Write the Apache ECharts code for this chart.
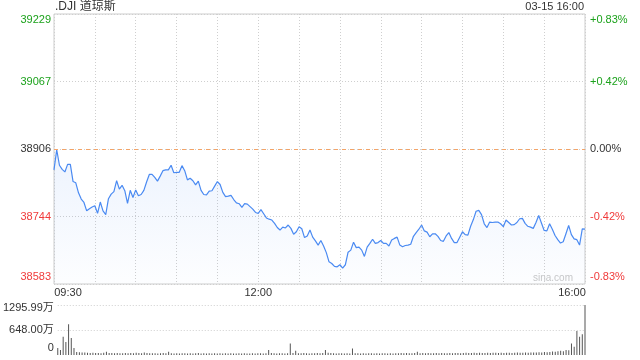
<!DOCTYPE html>
<html><head><meta charset="utf-8">
<script src="https://cdn.jsdelivr.net/npm/echarts@6/dist/echarts.min.js"></script>
<style>html,body{margin:0;padding:0;background:#fff}#c{width:640px;height:360px}</style>
</head><body><div id="c"></div>
<script>
// ---- data ----
const titleText = '.DJI 道琼斯';
const dateText = '03-15 16:00';
const prevClose = 38905.66;
const stepMinutes = 2; // one point every 2 minutes from 09:30
const priceTickLabels = ['38583', '38744', '38906', '39067', '39229'];
const pctTickLabels = ['-0.83%', '-0.42%', '0.00%', '+0.42%', '+0.83%'];
const volTickLabels = ['0', '648.00万', '1295.99万'];
const timeTickLabels = { 0: '09:30', 150: '12:00', 390: '16:00' };

const prices = [
  38856, 38904, 38867, 38857, 38851, 38869, 38869, 38828, 38825, 38801,
  38786, 38778, 38758, 38763, 38767, 38770, 38752, 38779, 38758, 38749,
  38787, 38798, 38804, 38830, 38810, 38819, 38806, 38776, 38807, 38790,
  38808, 38794, 38797, 38807, 38827, 38845, 38845, 38838, 38829, 38841,
  38854, 38856, 38856, 38867, 38849, 38850, 38850, 38866, 38854, 38832,
  38836, 38830, 38820, 38829, 38807, 38797, 38796, 38805, 38806, 38817,
  38828, 38821, 38802, 38792, 38793, 38795, 38785, 38777, 38775, 38766,
  38775, 38774, 38768, 38762, 38754, 38752, 38761, 38751, 38741, 38738,
  38736, 38728, 38718, 38712, 38719, 38717, 38724, 38716, 38702, 38708,
  38720, 38715, 38694, 38698, 38712, 38695, 38686, 38676, 38687, 38674,
  38658, 38636, 38632, 38625, 38624, 38629, 38621, 38629, 38659, 38664,
  38683, 38670, 38671, 38664, 38649, 38671, 38680, 38690, 38680, 38682,
  38687, 38680, 38680, 38674, 38688, 38692, 38695, 38676, 38672, 38675,
  38676, 38678, 38697, 38706, 38714, 38724, 38710, 38707, 38696, 38703,
  38703, 38697, 38687, 38685, 38698, 38706, 38692, 38682, 38682, 38695,
  38708, 38701, 38700, 38721, 38737, 38757, 38759, 38749, 38727, 38718,
  38731, 38730, 38731, 38731, 38727, 38720, 38736, 38730, 38724, 38725,
  38730, 38739, 38740, 38728, 38721, 38719, 38716, 38730, 38747, 38729,
  38711, 38710, 38727, 38714, 38699, 38689, 38681, 38684, 38703, 38723,
  38701, 38691, 38689, 38676, 38715, 38714
];

// volume, in 万 shares
const volumes = [
  180, 130, 470, 340, 795, 440, 180, 75, 70, 68,
  62, 58, 55, 60, 52, 55, 48, 58, 86, 55,
  50, 46, 52, 48, 44, 50, 46, 52, 48, 56,
  50, 45, 62, 50, 46, 44, 48, 42, 46, 50,
  44, 86, 48, 42, 46, 40, 44, 48, 42, 46,
  40, 44, 52, 42, 46, 40, 44, 42, 48, 40,
  44, 42, 46, 40, 44, 42, 38, 44, 40, 46,
  42, 38, 44, 40, 46, 48, 42, 44, 130, 50,
  46, 42, 48, 44, 40, 46, 300, 52, 110, 48,
  44, 50, 46, 42, 48, 44, 50, 46, 52, 130,
  56, 50, 46, 42, 48, 44, 40, 46, 42, 170,
  48, 44, 40, 46, 42, 48, 44, 40, 46, 42,
  48, 44, 40, 46, 42, 48, 44, 50, 46, 52,
  48, 44, 50, 86, 48, 54, 46, 50, 44, 48,
  52, 46, 50, 44, 48, 52, 46, 50, 54, 48,
  52, 56, 50, 54, 58, 52, 56, 50, 54, 58,
  52, 56, 60, 54, 58, 52, 56, 60, 54, 58,
  62, 56, 60, 64, 58, 62, 68, 64, 72, 68,
  76, 72, 80, 90, 82, 96, 108, 100, 130, 120,
  300, 216, 620, 475, 536, 1295.99
];

// ---- chart ----
const FONT = '"Liberation Sans", "Noto Sans CJK SC", Arial, sans-serif';
const GREEN = '#1ca21c';
const RED = '#f03a3a';
const DARK = '#333';
const FS = 11;

const PI = 161.435;              // price tick step
const yMin = 239 * PI, yMax = 243 * PI;
const volMax = 1295.99;

function tok(color, pad) {
  const o = { color: color, fontSize: FS, fontFamily: FONT };
  if (pad) o.padding = pad;
  return o;
}
const rich = {
  gt: tok(GREEN, [12, 0, 0, 0]), g: tok(GREEN), k: tok(DARK),
  r: tok(RED), rb: tok(RED, [0, 0, 14, 0]),
  kt: tok(DARK, [6, 0, 0, 0]), kb: tok(DARK, [0, 0, 14, 0]),
  tl: tok(DARK, [0, 0, 0, 28]), tr: tok(DARK, [0, 26, 0, 0]), tc: tok(DARK)
};
const priceTags = ['rb', 'r', 'k', 'g', 'gt'];

const chart = echarts.init(document.getElementById('c'), null, { renderer: 'canvas' });
chart.setOption({
  animation: false,
  backgroundColor: '#fff',
  textStyle: { fontFamily: FONT },
  title: [
    { text: titleText, left: 55, top: 1, padding: 0,
      textStyle: { fontSize: 12, fontWeight: 'normal', color: DARK, fontFamily: FONT } },
    { text: dateText, right: 56, top: 1, padding: 0,
      textStyle: { fontSize: 11, fontWeight: 'normal', color: DARK, fontFamily: FONT } }
  ],
  graphic: [{
    type: 'text', right: 67, top: 273, silent: true,
    style: { text: 'sina.com', fill: '#c8c8c8', fontSize: 10, fontFamily: FONT }
  }],
  grid: [
    { left: 54, right: 55, top: 14, height: 270, show: true, borderColor: '#cccccc', borderWidth: 1, backgroundColor: 'transparent' },
    { left: 54, right: 55, top: 305, height: 50, show: false }
  ],
  xAxis: [
    { type: 'value', gridIndex: 0, min: 0, max: 390, interval: 30,
      axisLine: { show: false }, axisTick: { show: false },
      splitLine: { show: true, lineStyle: { color: '#cfcfcf', type: [1, 2], width: 1 } },
      axisLabel: { show: true, margin: 3, showMinLabel: true, showMaxLabel: true,
        formatter: function (v) {
          const t = timeTickLabels[Math.round(v)];
          if (!t) return '';
          if (v === 0) return '{tl|' + t + '}';
          if (v === 390) return '{tr|' + t + '}';
          return '{tc|' + t + '}';
        }, rich: rich }
    },
    { type: 'value', gridIndex: 1, min: 0, max: 390, interval: 30,
      axisLine: { show: false }, axisTick: { show: false },
      splitLine: { show: false }, axisLabel: { show: false } }
  ],
  yAxis: [
    { type: 'value', gridIndex: 0, min: yMin, max: yMax, interval: PI,
      axisLine: { show: false }, axisTick: { show: false },
      splitLine: { show: true, lineStyle: { color: '#cfcfcf', type: [1, 2], width: 1 } },
      axisLabel: { margin: 3, showMinLabel: true, showMaxLabel: true,
        formatter: function (v) {
          const i = Math.round((v - yMin) / PI);
          return '{' + priceTags[i] + '|' + priceTickLabels[i] + '}';
        }, rich: rich }
    },
    { type: 'value', gridIndex: 0, position: 'right', min: -0.83, max: 0.83, interval: 0.415,
      axisLine: { show: false }, axisTick: { show: false }, splitLine: { show: false },
      axisLabel: { margin: 5, showMinLabel: true, showMaxLabel: true,
        formatter: function (v) {
          const i = Math.round((v + 0.83) / 0.415);
          return '{' + priceTags[i] + '|' + pctTickLabels[i] + '}';
        }, rich: rich }
    },
    { type: 'value', gridIndex: 1, min: 0, max: volMax, interval: volMax / 2,
      axisLine: { show: false }, axisTick: { show: false },
      splitLine: { show: true, showMinLine: false, lineStyle: { color: '#cfcfcf', type: [1, 2], width: 1 } },
      axisLabel: { margin: 4, showMinLabel: true, showMaxLabel: true,
        formatter: function (v) {
          const i = Math.round(v / (volMax / 2));
          const tag = i === 0 ? 'kb' : (i === 2 ? 'kt' : 'k');
          return '{' + tag + '|' + volTickLabels[i] + '}';
        }, rich: rich }
    }
  ],
  series: [
    { type: 'line', xAxisIndex: 0, yAxisIndex: 0,
      data: prices.map(function (p, i) { return [i * stepMinutes, p]; }),
      symbol: 'none', smooth: false,
      lineStyle: { color: '#4a8af2', width: 1.2 },
      areaStyle: { color: new echarts.graphic.LinearGradient(0, 0, 0, 1, [
        { offset: 0, color: 'rgba(74,138,242,0.14)' },
        { offset: 1, color: 'rgba(74,138,242,0.02)' }
      ]) },
      markLine: { silent: true, symbol: 'none', label: { show: false },
        lineStyle: { color: '#f3a468', type: [4, 4], width: 1 },
        data: [{ yAxis: prevClose }] }
    },
    { type: 'bar', xAxisIndex: 1, yAxisIndex: 2, barWidth: 1,
      data: volumes.map(function (v, i) { return [i * stepMinutes, v]; }),
      itemStyle: { color: '#555' } }
  ]
});
</script>
</body></html>
